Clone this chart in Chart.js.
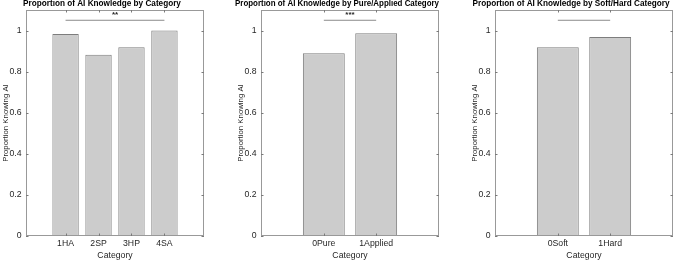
<!DOCTYPE html>
<html>
<head>
<meta charset="utf-8">
<script src="https://cdn.jsdelivr.net/npm/chart.js@4"></script>
<style>
  html, body { margin: 0; padding: 0; background: #ffffff; }
  #wrap { position: relative; width: 685px; height: 261px; overflow: hidden; background: #fff; }
  .panel { position: absolute; top: 0; height: 261px; }
</style>
</head>
<body>
<div id="wrap">
  <div class="panel" id="p1" style="left:0px;width:230px"><canvas id="c1"></canvas></div>
  <div class="panel" id="p2" style="left:235px;width:230px"><canvas id="c2"></canvas></div>
  <div class="panel" id="p3" style="left:469px;width:230px"><canvas id="c3"></canvas></div>
</div>
<script>
// ---- data ----
const titles = [
  'Proportion of AI Knowledge by Category',
  'Proportion of AI Knowledge by Pure/Applied Category',
  'Proportion of AI Knowledge by Soft/Hard Category'
];
const categories1 = ['1HA', '2SP', '3HP', '4SA'];
const values1 = [0.983, 0.882, 0.919, 1.0];
const categories2 = ['0Pure', '1Applied'];
const values2 = [0.890, 0.987];
const categories3 = ['0Soft', '1Hard'];
const values3 = [0.919, 0.968];
const sigLabels = ['**', '***', ''];
const sigLevel = 1.05;
const starLevel = 1.075;
const yTicks = [0, 0.2, 0.4, 0.6, 0.8, 1];
const yMax = 1.1;
const xPad = 1.2;
const yTitle = 'Proportion Knowing AI';
const xTitle = 'Category';

const FONT = "'Liberation Sans', Arial, Helvetica, sans-serif";
const TXT = '#262626';
const AX = '#999999';

const boxPlugin = {
  id: 'boxPlugin',
  afterDraw(chart) {
    const { ctx, chartArea: a, scales: { x, y } } = chart;
    const cats = chart.options.plugins.boxPlugin.cats;
    const star = chart.options.plugins.boxPlugin.star;
    ctx.save();
    ctx.strokeStyle = AX;
    ctx.lineWidth = 1;
    ctx.strokeRect(Math.round(a.left) + 0.5, Math.round(a.top) + 0.5,
                   Math.round(a.right) - Math.round(a.left) - 1, Math.round(a.bottom) - Math.round(a.top) - 1);
    ctx.strokeStyle = '#7a7a7a';
    const tl = 2.5;
    ctx.beginPath();
    yTicks.forEach(v => {
      const py = Math.round(y.getPixelForValue(v)) + 0.5;
      ctx.moveTo(a.left, py); ctx.lineTo(a.left + tl, py);
      ctx.moveTo(a.right, py); ctx.lineTo(a.right - tl, py);
    });
    cats.forEach((c, i) => {
      const px = Math.round(x.getPixelForValue(i + 1)) + 0.5;
      ctx.moveTo(px, a.bottom); ctx.lineTo(px, a.bottom - tl);
      ctx.moveTo(px, a.top); ctx.lineTo(px, a.top + tl);
    });
    ctx.stroke();
    if (star) {
      ctx.fillStyle = TXT;
      ctx.font = 'bold 8px ' + FONT;
      ctx.textAlign = 'center';
      ctx.textBaseline = 'middle';
      ctx.fillText(star, x.getPixelForValue((1 + cats.length) / 2), y.getPixelForValue(starLevel));
    }
    ctx.restore();
  }
};

function makeChart(id, title, cats, vals, star) {
  const n = cats.length;
  new Chart(document.getElementById(id), {
    type: 'bar',
    data: {
      datasets: [
        {
          type: 'bar',
          data: cats.map((c, i) => ({ x: i + 1, y: vals[i] })),
          backgroundColor: '#cccccc',
          borderColor: '#7d7d7d',
          borderWidth: 1,
          borderSkipped: false,
          categoryPercentage: 1.0,
          barPercentage: 0.8
        },
        {
          type: 'line',
          data: [{ x: 1, y: sigLevel }, { x: n, y: sigLevel }],
          borderColor: '#8c8c8c',
          borderWidth: 1,
          pointRadius: 0,
          fill: false
        }
      ]
    },
    options: {
      responsive: true,
      maintainAspectRatio: false,
      animation: false,
      events: [],
      layout: { padding: { left: 0, right: 26, top: 0, bottom: 0 } },
      plugins: {
        legend: { display: false },
        tooltip: { enabled: false },
        title: {
          display: true,
          text: title,
          color: '#000',
          font: { family: FONT, size: 8.2, weight: 'bold', lineHeight: 1.0 },
          padding: { top: 0, bottom: 1.8 }
        },
        boxPlugin: { cats: cats, star: star }
      },
      scales: {
        x: {
          type: 'linear',
          offset: false,
          min: 1 - xPad,
          max: n + xPad,
          grid: { display: false, drawTicks: false },
          border: { display: false },
          afterBuildTicks: s => { s.ticks = cats.map((c, i) => ({ value: i + 1 })); },
          afterFit: s => { s.height = 25; },
          ticks: {
            autoSkip: false, maxRotation: 0, padding: 2.5,
            color: TXT,
            font: { family: FONT, size: 8.7 },
            callback: v => cats[v - 1]
          },
          title: {
            display: true, text: xTitle, color: TXT,
            font: { family: FONT, size: 8.7 },
            padding: { top: 0, bottom: 0 }
          }
        },
        y: {
          min: 0,
          max: yMax,
          grid: { display: false, drawTicks: false },
          border: { display: false },
          afterBuildTicks: s => { s.ticks = yTicks.map(v => ({ value: v })); },
          afterFit: s => { s.width = 26; },
          ticks: {
            padding: 4.5,
            color: TXT,
            font: { family: FONT, size: 8.7 },
            callback: v => String(v)
          },
          title: {
            display: true, text: yTitle, color: TXT,
            font: { family: FONT, size: 7.8 },
            padding: { top: 1.5, bottom: 0 }
          }
        }
      }
    },
    plugins: [boxPlugin]
  });
}

makeChart('c1', titles[0], categories1, values1, sigLabels[0]);
makeChart('c2', titles[1], categories2, values2, sigLabels[1]);
makeChart('c3', titles[2], categories3, values3, sigLabels[2]);
</script>
</body>
</html>
